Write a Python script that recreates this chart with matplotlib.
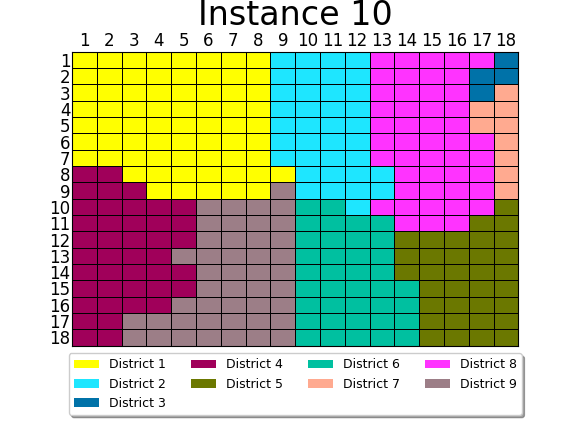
import numpy as np
import matplotlib
matplotlib.use("Agg")
import matplotlib.pyplot as plt
from matplotlib.colors import ListedColormap
from matplotlib.patches import Patch

# district assignment per row (row 1 at top), given as runs of (district, count)
row_runs = [
    [(1, 8), (2, 4), (8, 5), (3, 1)],
    [(1, 8), (2, 4), (8, 4), (3, 2)],
    [(1, 8), (2, 4), (8, 4), (3, 1), (7, 1)],
    [(1, 8), (2, 4), (8, 4), (7, 2)],
    [(1, 8), (2, 4), (8, 4), (7, 2)],
    [(1, 8), (2, 4), (8, 5), (7, 1)],
    [(1, 8), (2, 4), (8, 5), (7, 1)],
    [(4, 2), (1, 7), (2, 4), (8, 4), (7, 1)],
    [(4, 3), (1, 5), (9, 1), (2, 4), (8, 4), (7, 1)],
    [(4, 5), (9, 4), (6, 2), (2, 1), (8, 5), (5, 1)],
    [(4, 5), (9, 4), (6, 4), (8, 3), (5, 2)],
    [(4, 5), (9, 4), (6, 4), (5, 5)],
    [(4, 4), (9, 5), (6, 4), (5, 5)],
    [(4, 5), (9, 4), (6, 4), (5, 5)],
    [(4, 5), (9, 4), (6, 5), (5, 4)],
    [(4, 4), (9, 5), (6, 5), (5, 4)],
    [(4, 2), (9, 7), (6, 5), (5, 4)],
    [(4, 2), (9, 7), (6, 5), (5, 4)],
]

district_names = ["District %d" % i for i in range(1, 10)]
district_colors = ["#ffff00", "#1ee6ff", "#0072a8", "#a0005a", "#6b7800",
                   "#00c0a0", "#ffaa90", "#ff33ff", "#9c7e87"]

grid = np.array([[d for d, n in runs for _ in range(n)] for runs in row_runs])
n_rows, n_cols = grid.shape

fig = plt.figure(figsize=(5.76, 4.32), dpi=100)
ax = fig.add_axes([0.125, 0.2, 0.775, 0.68])

cmap = ListedColormap(district_colors)
ax.pcolormesh(np.arange(n_cols + 1), np.arange(n_rows + 1), grid - 1,
              cmap=cmap, vmin=-0.5, vmax=8.5, edgecolors="k", linewidth=0.6)
ax.set_xlim(0, n_cols)
ax.set_ylim(n_rows, 0)

ax.set_xticks(np.arange(n_cols) + 0.5)
ax.set_xticklabels([str(i) for i in range(1, n_cols + 1)])
ax.set_yticks(np.arange(n_rows) + 0.5)
ax.set_yticklabels([str(i) for i in range(1, n_rows + 1)])
ax.xaxis.tick_top()
ax.tick_params(length=0, labelsize=12, pad=1)

ax.set_title("Instance 10", fontsize=24, pad=4)

handles = [Patch(facecolor=c, edgecolor="none", label=n)
           for c, n in zip(district_colors, district_names)]
ax.legend(handles=handles, loc="upper center", bbox_to_anchor=(0.5, -0.005),
          ncol=4, shadow=True, fancybox=True, fontsize=9,
          handlelength=2.0, columnspacing=2.0)

fig.savefig("out.png", dpi=100)
